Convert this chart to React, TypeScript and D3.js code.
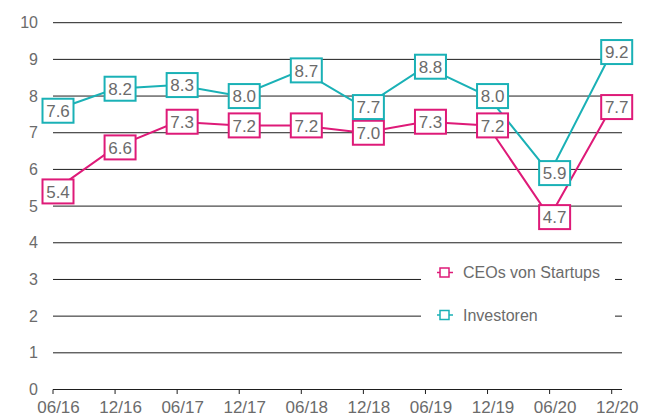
import React, { Component } from 'react';
import * as d3 from 'd3';

const periods = ['06/16', '12/16', '06/17', '12/17', '06/18', '12/18', '06/19', '12/19', '06/20', '12/20'];
const ceoValues = [5.4, 6.6, 7.3, 7.2, 7.2, 7.0, 7.3, 7.2, 4.7, 7.7];
const investorValues = [7.6, 8.2, 8.3, 8.0, 8.7, 7.7, 8.8, 8.0, 5.9, 9.2];
const yTicks = [0, 1, 2, 3, 4, 5, 6, 7, 8, 9, 10];
const seriesNames = ['CEOs von Startups', 'Investoren'];

const PINK = '#de1a78';
const TEAL = '#1ab1b6';
const FONT = '"Liberation Sans", Arial, sans-serif';

class App extends Component {
    svgRef = React.createRef<SVGSVGElement>();

    componentDidMount() {
        document.body.style.margin = '0';
        this.drawChart();
    }

    drawChart() {
        const width = 662, height = 417;
        const left = 53, right = 622;

        // x und y Skalen
        const x = d3.scalePoint<string>()
            .domain(periods)
            .range([53, 611.7]);

        const y = d3.scaleLinear()
            .domain([0, 10])
            .range([389.5, 22.7]);

        const svg = d3.select(this.svgRef.current)
            .attr('width', width)
            .attr('height', height)
            .style('display', 'block')
            .style('font-family', FONT);

        svg.selectAll('*').remove();

        // Gitterlinien
        svg.append('g')
            .selectAll('line')
            .data(yTicks.filter(d => d > 0))
            .join('line')
            .attr('x1', left)
            .attr('x2', right)
            .attr('y1', d => y(d))
            .attr('y2', d => y(d))
            .style('stroke', '#1e1e1e')
            .style('stroke-width', 1);

        // y Beschriftung
        svg.append('g')
            .selectAll('text')
            .data(yTicks)
            .join('text')
            .attr('x', 38)
            .attr('y', d => y(d))
            .attr('dy', '0.35em')
            .attr('text-anchor', 'end')
            .style('font-size', '16px')
            .style('fill', '#6b6b6b')
            .text(d => d);

        // x Achse
        const xAxis = svg.append('g');
        xAxis.append('line')
            .attr('x1', left)
            .attr('x2', right)
            .attr('y1', y(0))
            .attr('y2', y(0))
            .style('stroke', '#1e1e1e')
            .style('stroke-width', 1);

        xAxis.selectAll('line.tick')
            .data(periods)
            .join('line')
            .attr('class', 'tick')
            .attr('x1', d => x(d)!)
            .attr('x2', d => x(d)!)
            .attr('y1', y(0))
            .attr('y2', y(0) + 4.5)
            .style('stroke', '#1e1e1e')
            .style('stroke-width', 1);

        xAxis.selectAll('text')
            .data(periods)
            .join('text')
            .attr('x', d => x(d)! + 5.5)
            .attr('y', 413)
            .attr('text-anchor', 'middle')
            .style('font-size', '17px')
            .style('fill', '#6b6b6b')
            .text(d => d);

        // Linien
        const series = [
            { name: seriesNames[0], values: ceoValues, color: PINK },
            { name: seriesNames[1], values: investorValues, color: TEAL },
        ];

        const line = d3.line<number>()
            .x((d, i) => x(periods[i])!)
            .y(d => y(d));

        series.forEach(s => {
            svg.append('path')
                .attr('d', line(s.values))
                .attr('fill', 'none')
                .style('stroke', s.color)
                .style('stroke-width', 2);
        });

        // Wertelabels
        series.forEach(s => {
            const g = svg.append('g')
                .selectAll('g')
                .data(s.values)
                .join('g')
                .attr('transform', (d, i) => 'translate(' + (x(periods[i])! + 5) + ',' + y(d) + ')');

            g.append('rect')
                .attr('x', -15.5)
                .attr('y', -12)
                .attr('width', 31)
                .attr('height', 24)
                .attr('fill', '#fff')
                .style('stroke', s.color)
                .style('stroke-width', 2);

            g.append('text')
                .attr('text-anchor', 'middle')
                .attr('dy', '0.36em')
                .style('font-size', '17px')
                .style('fill', '#6b6b6b')
                .text(d => d.toFixed(1));
        });

        // Legende
        svg.append('rect')
            .attr('x', 421)
            .attr('y', 258)
            .attr('width', 194)
            .attr('height', 74)
            .attr('fill', '#fff');

        const legendY = [272.5, 315];
        series.forEach((s, i) => {
            const ly = legendY[i];
            svg.append('line')
                .attr('x1', 437)
                .attr('x2', 453)
                .attr('y1', ly)
                .attr('y2', ly)
                .style('stroke', s.color)
                .style('stroke-width', 1.5);
            svg.append('rect')
                .attr('x', 440)
                .attr('y', ly - 4.5)
                .attr('width', 9)
                .attr('height', 9)
                .attr('fill', '#fff')
                .style('stroke', s.color)
                .style('stroke-width', 1.5);
            svg.append('text')
                .attr('x', 463)
                .attr('y', ly)
                .attr('dy', '0.35em')
                .style('font-size', '16px')
                .style('fill', '#6b6b6b')
                .text(s.name);
        });
    }

    render() {
        return (
            <div>
                <svg ref={this.svgRef}></svg>
            </div>
        );
    }
}

export default App;
